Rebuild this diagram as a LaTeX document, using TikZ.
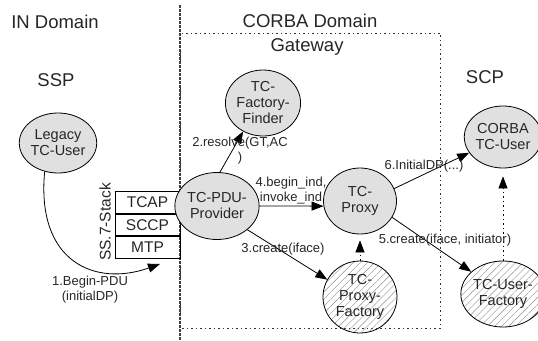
\documentclass[tikz,border=0pt]{standalone}
\usepackage{fontspec}
\setmainfont{Liberation Sans}
\usetikzlibrary{arrows.meta,shapes.geometric,patterns.meta}
\begin{document}
\begin{tikzpicture}[x=1pt,y=-1pt,
  every node/.style={text=black!85},
  ell/.style={ellipse,draw,line width=0.8pt,inner sep=0pt,align=center,font=\fontsize{14.5}{16}\selectfont},
  filled/.style={ell,fill=black!12},
  hatched/.style={ell,pattern={Lines[angle=45,distance=5pt,line width=0.4pt]},pattern color=black!45},
  head/.style={font=\fontsize{18.5}{21}\selectfont},
  lbl/.style={font=\fontsize{13}{15}\selectfont,inner sep=1pt,align=center},
  stackbox/.style={draw,line width=0.8pt,minimum width=65pt,minimum height=21.7pt,inner sep=0pt,font=\fontsize{15.5}{17}\selectfont},
  arr/.style={-{Triangle[length=12pt,width=9pt]},line width=0.8pt},
  darr/.style={arr,dash pattern=on 1.5pt off 3pt},
  vline/.style={line width=1.2pt,black!75,dash pattern=on 3pt off 1pt},
  gate/.style={line width=1pt,black!80,dash pattern=on 1.5pt off 3pt},
  ]
\useasboundingbox (0,0) rectangle (538,340);
% domain divider and gateway
\draw[vline] (180,5) -- (180,340);
\draw[gate] (180,33) rectangle (440,328);
% headings
\node[head] (hin) at (55,22) {IN Domain};
\node[head] (hcorba) at (310,21) {CORBA Domain};
\node[head] (hgate) at (307,47) {Gateway};
\node[head] (hssp) at (56,80) {SSP};
\node[head] (hscp) at (485,77) {SCP};
% stack
\node[stackbox] (tcap) at (147.5,202.5) {TCAP};
\node[stackbox,anchor=north] (sccp) at (tcap.south) {SCCP};
\node[stackbox,anchor=north] (mtp) at (sccp.south) {MTP};
\node[rotate=90,font=\fontsize{15.5}{17}\selectfont,inner sep=0pt] (ss7) at (105,222) {SS.7-Stack};
% ellipses
\node[filled,minimum width=72pt,minimum height=60pt] (legacy) at (58,143) {Legacy\\TC-User};
\node[filled,minimum width=68pt,minimum height=66pt] (finder) at (263,103) {TC-\\Factory-\\Finder};
\node[filled,minimum width=71pt,minimum height=67pt] (pdu) at (217,206) {TC-PDU-\\Provider};
\node[filled,minimum width=73pt,minimum height=66pt] (proxy) at (360,201) {TC-\\Proxy};
\node[hatched,minimum width=74pt,minimum height=72pt] (pfact) at (360,297) {TC-\\Proxy-\\Factory};
\node[filled,minimum width=66pt,minimum height=62pt] (corba) at (503,137) {CORBA\\TC-User};
\node[hatched,minimum width=64pt,minimum height=66pt] (ufact) at (503,294) {TC-User-\\Factory};
% connectors
\coordinate (t1) at (160,264);
\draw[arr] (legacy.245) .. controls (36,262) and (95,287) .. (t1);
\draw[arr] (pdu.85) -- (finder.235);
\draw[arr] (pdu.-38) -- (pfact.152);
\draw[arr] (pdu.east) -- (proxy.188);
\draw[arr] (proxy.-27) -- (ufact.145);
\draw[arr] (proxy.20) -- (corba.205);
\draw[darr,shorten >=6pt] (pfact.north) -- (proxy.south);
\draw[darr,shorten >=8pt] (ufact.north) -- (corba.south);
% labels
\node[lbl] (l1) at (90,290) {1.Begin-PDU\\(initialDP)};
\node[lbl] (l2) at (240,151) {2.resolve(GT,AC\\)};
\node[lbl] (l3) at (283,249) {3.create(iface)};
\node[lbl] (l4) at (291,190.5) {4.begin\_ind,\\invoke\_ind};
\node[lbl] (l5) at (445,240) {5.create(iface, initiator)};
\node[lbl] (l6) at (424,166) {6.InitialDP(...)};
\end{tikzpicture}
\end{document}
